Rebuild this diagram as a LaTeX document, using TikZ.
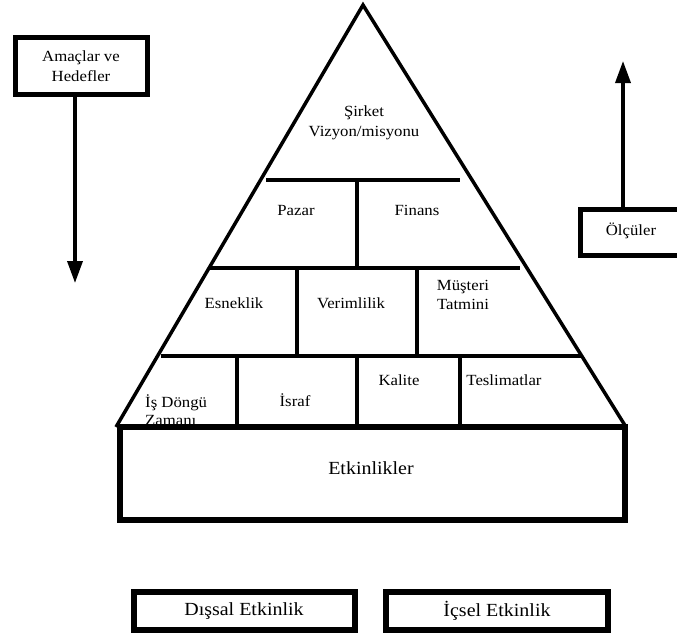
\documentclass[tikz,border=0pt]{standalone}
\usepackage{fontspec}
\setmainfont{Liberation Serif}[FakeStretch=1.08]
\usetikzlibrary{arrows.meta}
\begin{document}
\begin{tikzpicture}[x=1pt,y=-1pt,
  lbl/.style={font=\fontsize{15.5}{19.5}\selectfont, align=center, inner sep=0pt},
  biglbl/.style={font=\fontsize{18.5}{22}\selectfont, inner sep=0pt},
  frame/.style={draw, line width=#1, inner sep=0pt},
  side/.style={line width=3.5pt},
  divider/.style={line width=4.5pt},
  arr/.style={line width=3.5pt, -{Triangle[length=22pt,width=15pt]}}]
\useasboundingbox (0,0) rectangle (677,642);

% pyramid outline
\coordinate (apex) at (363,5);
\coordinate (baseL) at (116,427);
\coordinate (baseR) at (626,427);
\draw[side, line join=miter] (baseL) -- (apex) -- (baseR);

% level dividers
\draw[divider] (266,180) -- (460,180);
\draw[divider] (209,268) -- (520,268);
\draw[divider] (161,356) -- (581,356);
\draw[divider] (357,180) -- (357,268);
\draw[divider] (297,268) -- (297,356);
\draw[divider] (417,268) -- (417,356);
\draw[divider] (237,356) -- (237,425);
\draw[divider] (357,356) -- (357,425);
\draw[divider] (460,356) -- (460,425);

% level labels
\node[lbl] (vision) at (364,123) {Şirket\\Vizyon/misyonu};
\node[lbl] (market) at (296,210) {Pazar};
\node[lbl] (finance) at (417,210) {Finans};
\node[lbl] (flex) at (234,303) {Esneklik};
\node[lbl] (eff) at (351,303) {Verimlilik};
\node[lbl] (cust) at (463,295) {Müşteri\\Tatmini};
\node[lbl, align=left, anchor=west, font=\fontsize{15.5}{18}\selectfont] (cycle) at (145,410) {İş Döngü\\Zamanı};
\node[lbl] (waste) at (295,400) {İsraf};
\node[lbl] (quality) at (399,380) {Kalite};
\node[lbl] (deliv) at (504,380) {Teslimatlar};

% activities base
\node[frame=6pt, fill=white, minimum width=505, minimum height=93] (act) at (372,473.5) {};
\node[biglbl] (actlbl) at (371,468) {Etkinlikler};

% goals and measures
\node[frame=5pt, lbl, minimum width=132, minimum height=57] (goals) at (81,66) {Amaçlar ve\\Hedefler};
\coordinate (goalsEnd) at (75,283);
\draw[arr] (goals.south -| goalsEnd) -- (goalsEnd);

\node[frame=5pt, minimum width=120, minimum height=46] (meas) at (640,232) {};
\node[lbl] (measlbl) at (631,231) {Ölçüler};
\coordinate (measEnd) at (623,61);
\draw[arr] (meas.north -| measEnd) -- (measEnd);

% external / internal activity boxes
\node[frame=6pt, biglbl, minimum width=221, minimum height=38] (ext) at (244,611) {Dışsal Etkinlik};
\node[frame=6pt, biglbl, minimum width=222, minimum height=38] (int) at (497,611) {İçsel Etkinlik};
\end{tikzpicture}
\end{document}
